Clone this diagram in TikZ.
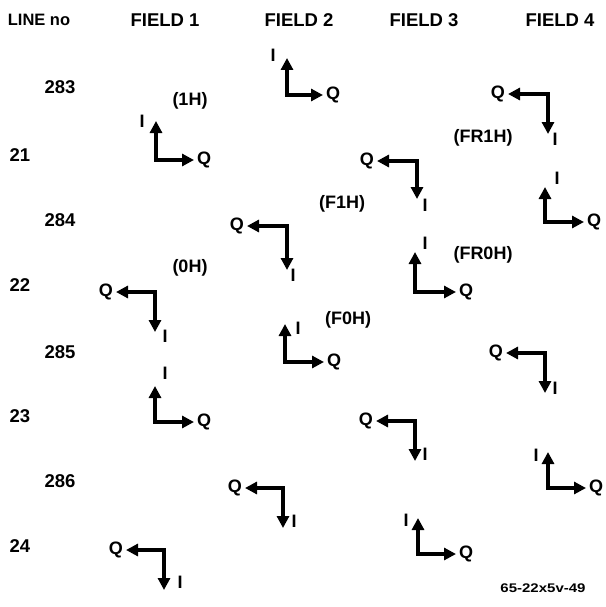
\documentclass[tikz,border=0pt]{standalone}
\usepackage{fontspec}
\usepackage{graphicx}
\setmainfont{Liberation Sans}
\usetikzlibrary{arrows.meta}
\tikzset{
  axis/.style={line width=3.2pt, line join=miter, {Triangle[length=12pt,width=12pt]}-{Triangle[length=12pt,width=12pt]}},
  lab/.style={font=\fontsize{18}{20}\selectfont\bfseries, inner sep=0pt},
  qlabr/.style={lab, anchor=west, xshift=3pt},
  qlabl/.style={lab, anchor=east, xshift=-3pt},
  head/.style={font=\fontsize{18.5}{21}\selectfont\bfseries, inner sep=0pt},
  foot/.style={font=\fontsize{12.5}{14}\selectfont\bfseries, inner sep=0pt}
}
% #1 name, corner (#2,#3), I tip (#4,#5), Q tip (#6,#7), I label (#8,#9)
\newcommand\IQglyph[9]{%
  \coordinate (#1c) at (#2,#3);
  \coordinate (#1i) at (#4,#5);
  \coordinate (#1q) at (#6,#7);
  \draw[axis] (#1i) -- (#1c) -- (#1q);
  \node[lab] (#1il) at (#8,#9) {I};
}
\begin{document}
\begin{tikzpicture}[x=1pt,y=-1pt]
\useasboundingbox (0,0) rectangle (605,607);
% header
\node[head, font=\fontsize{16.5}{19}\selectfont\bfseries] (hline) at (39,20) {LINE no};
\node[head] (hf1) at (165,20) {FIELD 1};
\node[head] (hf2) at (299,20) {FIELD 2};
\node[head] (hf3) at (424,20) {FIELD 3};
\node[head] (hf4) at (560,20) {FIELD 4};
% line numbers
\node[head] (n283) at (60,87) {283};
\node[head] (n21) at (20,155) {21};
\node[head] (n284) at (60,220) {284};
\node[head] (n22) at (20,285) {22};
\node[head] (n285) at (60,352) {285};
\node[head] (n23) at (20,416) {23};
\node[head] (n286) at (60,481) {286};
\node[head] (n24) at (20,546) {24};
% type A glyphs (I up, Q right)
\IQglyph{a1}{287}{95}{287}{58}{323}{95}{273}{55}
\node[qlabr] (a1ql) at (a1q) {Q};
\IQglyph{a2}{156}{160}{156}{121}{194}{160}{142}{121}
\node[qlabr] (a2ql) at (a2q) {Q};
\IQglyph{a3}{545}{222}{545}{187}{584}{222}{557}{178}
\node[qlabr] (a3ql) at (a3q) {Q};
\IQglyph{a4}{415}{292}{415}{252}{456}{292}{425}{243}
\node[qlabr] (a4ql) at (a4q) {Q};
\IQglyph{a5}{285}{362}{285}{324}{324}{362}{298}{328}
\node[qlabr] (a5ql) at (a5q) {Q};
\IQglyph{a6}{155}{422}{155}{386}{194}{422}{165}{373}
\node[qlabr] (a6ql) at (a6q) {Q};
\IQglyph{a7}{548}{488}{548}{452}{586}{488}{536}{455}
\node[qlabr] (a7ql) at (a7q) {Q};
\IQglyph{a8}{418}{554}{418}{518}{456}{554}{406}{520}
\node[qlabr] (a8ql) at (a8q) {Q};
% type B glyphs (Q left, I down)
\IQglyph{b1}{548}{94}{548}{134}{508}{94}{555}{139}
\node[qlabl] (b1ql) at (b1q) {Q};
\IQglyph{b2}{417}{161}{417}{199}{377}{161}{425}{205}
\node[qlabl] (b2ql) at (b2q) {Q};
\IQglyph{b3}{287}{226}{287}{270}{247}{226}{293}{275}
\node[qlabl] (b3ql) at (b3q) {Q};
\IQglyph{b4}{155}{292}{155}{332}{116}{292}{165}{336}
\node[qlabl] (b4ql) at (b4q) {Q};
\IQglyph{b5}{545}{353}{545}{393}{506}{353}{555}{388}
\node[qlabl] (b5ql) at (b5q) {Q};
\IQglyph{b6}{415}{421}{415}{461}{376}{421}{425}{454}
\node[qlabl] (b6ql) at (b6q) {Q};
\IQglyph{b7}{283}{488}{283}{528}{245}{488}{294}{521}
\node[qlabl] (b7ql) at (b7q) {Q};
\IQglyph{b8}{164}{550}{164}{590}{126}{550}{180}{582}
\node[qlabl] (b8ql) at (b8q) {Q};
% field labels
\node[lab] (l1h) at (190,101) {(1H)};
\node[lab] (l0h) at (190,268) {(0H)};
\node[lab] (lf1h) at (342,204) {(F1H)};
\node[lab] (lf0h) at (348,320) {(F0H)};
\node[lab] (lfr1h) at (483,138) {(FR1H)};
\node[lab] (lfr0h) at (483,255) {(FR0H)};
% footnote
\node[foot] (fn) at (543,588) {\scalebox{1.2}[1]{65-22x5v-49}};
\end{tikzpicture}
\end{document}
